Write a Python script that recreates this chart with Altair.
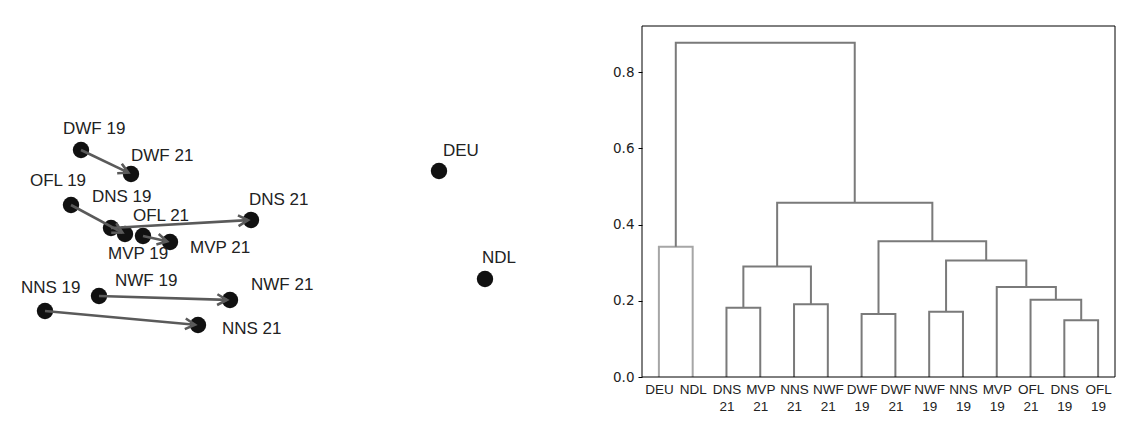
import math
import altair as alt
import pandas as pd

# ---------------- left panel data (MDS-like map) ----------------
names = ["DWF 19", "DWF 21", "OFL 19", "DNS 19", "OFL 21", "MVP 19", "MVP 21",
         "DNS 21", "NWF 19", "NWF 21", "NNS 19", "NNS 21", "DEU", "NDL"]
dim1 = [-1.70, -1.20, -1.80, -1.40, -1.26, -1.08, -0.81,
        0.00, -1.52, -0.21, -2.06, -0.53, 1.88, 2.34]
dim2 = [1.01, 0.77, 0.46, 0.23, 0.17, 0.15, 0.09,
        0.31, -0.45, -0.49, -0.60, -0.74, 0.80, -0.28]
groups = ["DWF", "OFL", "DNS", "MVP", "NWF", "NNS"]

# label placement (pixel offsets from the point, left/middle anchor)
label_off = {
    "DWF 19": (-18, -21), "DWF 21": (0, -18), "OFL 19": (-41, -24),
    "DNS 19": (-19, -31), "OFL 21": (8, -18), "MVP 19": (-35, 18),
    "MVP 21": (20, 6), "DNS 21": (-2, -20), "NWF 19": (16, -15),
    "NWF 21": (21, -15), "NNS 19": (-24, -23), "NNS 21": (24, 4),
    "DEU": (4, -20), "NDL": (-3, -21),
}

# ---------------- right panel data (dendrogram) ----------------
leaves = ["DEU", "NDL", "DNS 21", "MVP 21", "NNS 21", "NWF 21", "DWF 19",
          "DWF 21", "NWF 19", "NNS 19", "MVP 19", "OFL 21", "DNS 19", "OFL 19"]
merge_left = [12, 6, 8, 2, 4, 11, 10, 17, 16, 0, 15, 21, 23]
merge_right = [13, 7, 9, 3, 5, 14, 19, 18, 20, 1, 22, 24, 25]
merge_height = [0.149, 0.165, 0.171, 0.182, 0.191, 0.203, 0.236,
                0.290, 0.306, 0.342, 0.356, 0.457, 0.877]
y_ticks = [0.0, 0.2, 0.4, 0.6, 0.8]
frame_top = 0.921

# ---------------- build left panel ----------------
PX = 100.0  # pixels per unit
W1, H1 = 545, 400
xmin = -2.42
ymax = 2.42
xdom = [xmin, xmin + W1 / PX]
ydom = [ymax - H1 / PX, ymax]

pts = pd.DataFrame({"name": names, "d1": dim1, "d2": dim2})
pos = {n: (a, b) for n, a, b in zip(names, dim1, dim2)}

arr_rows = []
for g in groups:
    x1, y1 = pos[g + " 19"]
    x2, y2 = pos[g + " 21"]
    dxs = (x2 - x1) * PX
    dys = -(y2 - y1) * PX
    L = math.hypot(dxs, dys)
    shrink = 3.0
    tx = x2 - (x2 - x1) * shrink / L
    ty = y2 - (y2 - y1) * shrink / L
    ang = math.degrees(math.atan2(dys, dxs)) % 360
    arr_rows.append({"g": g, "x1": x1, "y1": y1, "x2": tx, "y2": ty, "ang": ang})
arrows = pd.DataFrame(arr_rows)

lab_rows = []
for n in names:
    ox, oy = label_off[n]
    a, b = pos[n]
    lab_rows.append({"name": n, "lx": a + ox / PX, "ly": b - oy / PX})
labs = pd.DataFrame(lab_rows)

xs = alt.Scale(domain=xdom, nice=False, zero=False)
ys = alt.Scale(domain=ydom, nice=False, zero=False)

points = alt.Chart(pts).mark_circle(size=270, color="#111111", opacity=1).encode(
    x=alt.X("d1:Q", scale=xs, axis=None),
    y=alt.Y("d2:Q", scale=ys, axis=None),
)
shafts = alt.Chart(arrows).mark_rule(color="#5a5a5a", strokeWidth=2.6).encode(
    x=alt.X("x1:Q", scale=xs, axis=None),
    y=alt.Y("y1:Q", scale=ys, axis=None),
    x2="x2:Q",
    y2="y2:Q",
)
heads = alt.Chart(arrows).mark_point(
    shape="M-1,-0.55L0,0L-1,0.55", filled=False, color="#5a5a5a",
    strokeWidth=2.6, size=380, opacity=1,
).encode(
    x=alt.X("x2:Q", scale=xs, axis=None),
    y=alt.Y("y2:Q", scale=ys, axis=None),
    angle=alt.Angle("ang:Q", scale=None),
)
texts = alt.Chart(labs).mark_text(
    align="left", baseline="middle", font="Liberation Sans", fontSize=17,
    color="#222222",
).encode(
    x=alt.X("lx:Q", scale=xs, axis=None),
    y=alt.Y("ly:Q", scale=ys, axis=None),
    text="name:N",
)
left = alt.layer(points, shafts, heads, texts).properties(width=W1, height=H1)

# ---------------- build dendrogram ----------------
n_leaf = len(leaves)
node_x = {i: 5 + 10 * i for i in range(n_leaf)}
node_h = {i: 0.0 for i in range(n_leaf)}
seg_rows = []
for k, (l, r, h) in enumerate(zip(merge_left, merge_right, merge_height)):
    nid = n_leaf + k
    xl, xr = node_x[l], node_x[r]
    col = "#a6a6a6" if (l < n_leaf and r < n_leaf and leaves[l] == "DEU") else "#7a7a7a"
    for o, (px, py) in enumerate([(xl, node_h[l]), (xl, h), (xr, h), (xr, node_h[r])]):
        seg_rows.append({"id": nid, "o": o, "x": px, "y": py, "c": col})
    node_x[nid] = (xl + xr) / 2
    node_h[nid] = h
segs = pd.DataFrame(seg_rows)

arr_js = "[" + ",".join("'" + s + "'" for s in leaves) + "]"
label_expr = f"split({arr_js}[round((datum.value - 5) / 10)], ' ')"

H_PLOT = 351
H_TOT = 368
dx_scale = alt.Scale(domain=[0, 140], nice=False, zero=False)
dy_scale = alt.Scale(domain=[0, frame_top * H_TOT / H_PLOT], nice=False, zero=False)

x_axis = alt.Axis(values=[5 + 10 * i for i in range(n_leaf)],
                  labelExpr=label_expr, ticks=False, domain=False,
                  grid=False, title=None, labelFont="Liberation Sans",
                  labelFontSize=13.5, labelLineHeight=17,
                  labelColor="#222222", labelPadding=5,
                  labelOverlap=False, labelBaseline="top")
y_axis = alt.Axis(values=y_ticks, format=".1f",
                  domain=False, grid=False, title=None, tickSize=4,
                  tickColor="#000000", labelFont="DejaVu Sans",
                  labelFontSize=13.5, labelColor="#222222",
                  labelPadding=4)

dendro = alt.Chart(segs).mark_line(strokeWidth=2, strokeJoin="miter").encode(
    x=alt.X("x:Q", scale=dx_scale, axis=x_axis),
    y=alt.Y("y:Q", scale=dy_scale, axis=y_axis),
    detail="id:N",
    order=alt.Order("o:Q"),
    color=alt.Color("c:N", scale=None),
)

frame_df = pd.DataFrame({"x0": [0], "x1": [140], "y0": [0], "y1": [frame_top]})
frame = alt.Chart(frame_df).mark_rect(
    fill="transparent", stroke="#000000", strokeWidth=1
).encode(
    x=alt.X("x0:Q", scale=dx_scale, axis=x_axis),
    x2="x1:Q",
    y=alt.Y("y0:Q", scale=dy_scale, axis=y_axis),
    y2="y1:Q",
)

right = alt.layer(dendro, frame).properties(width=473, height=H_TOT)

chart = alt.hconcat(left, right, spacing=57).properties(padding=0).configure(
    background="white"
).configure_view(stroke="transparent")

chart.save("out.html", embed_options={"renderer": "svg", "actions": False})
